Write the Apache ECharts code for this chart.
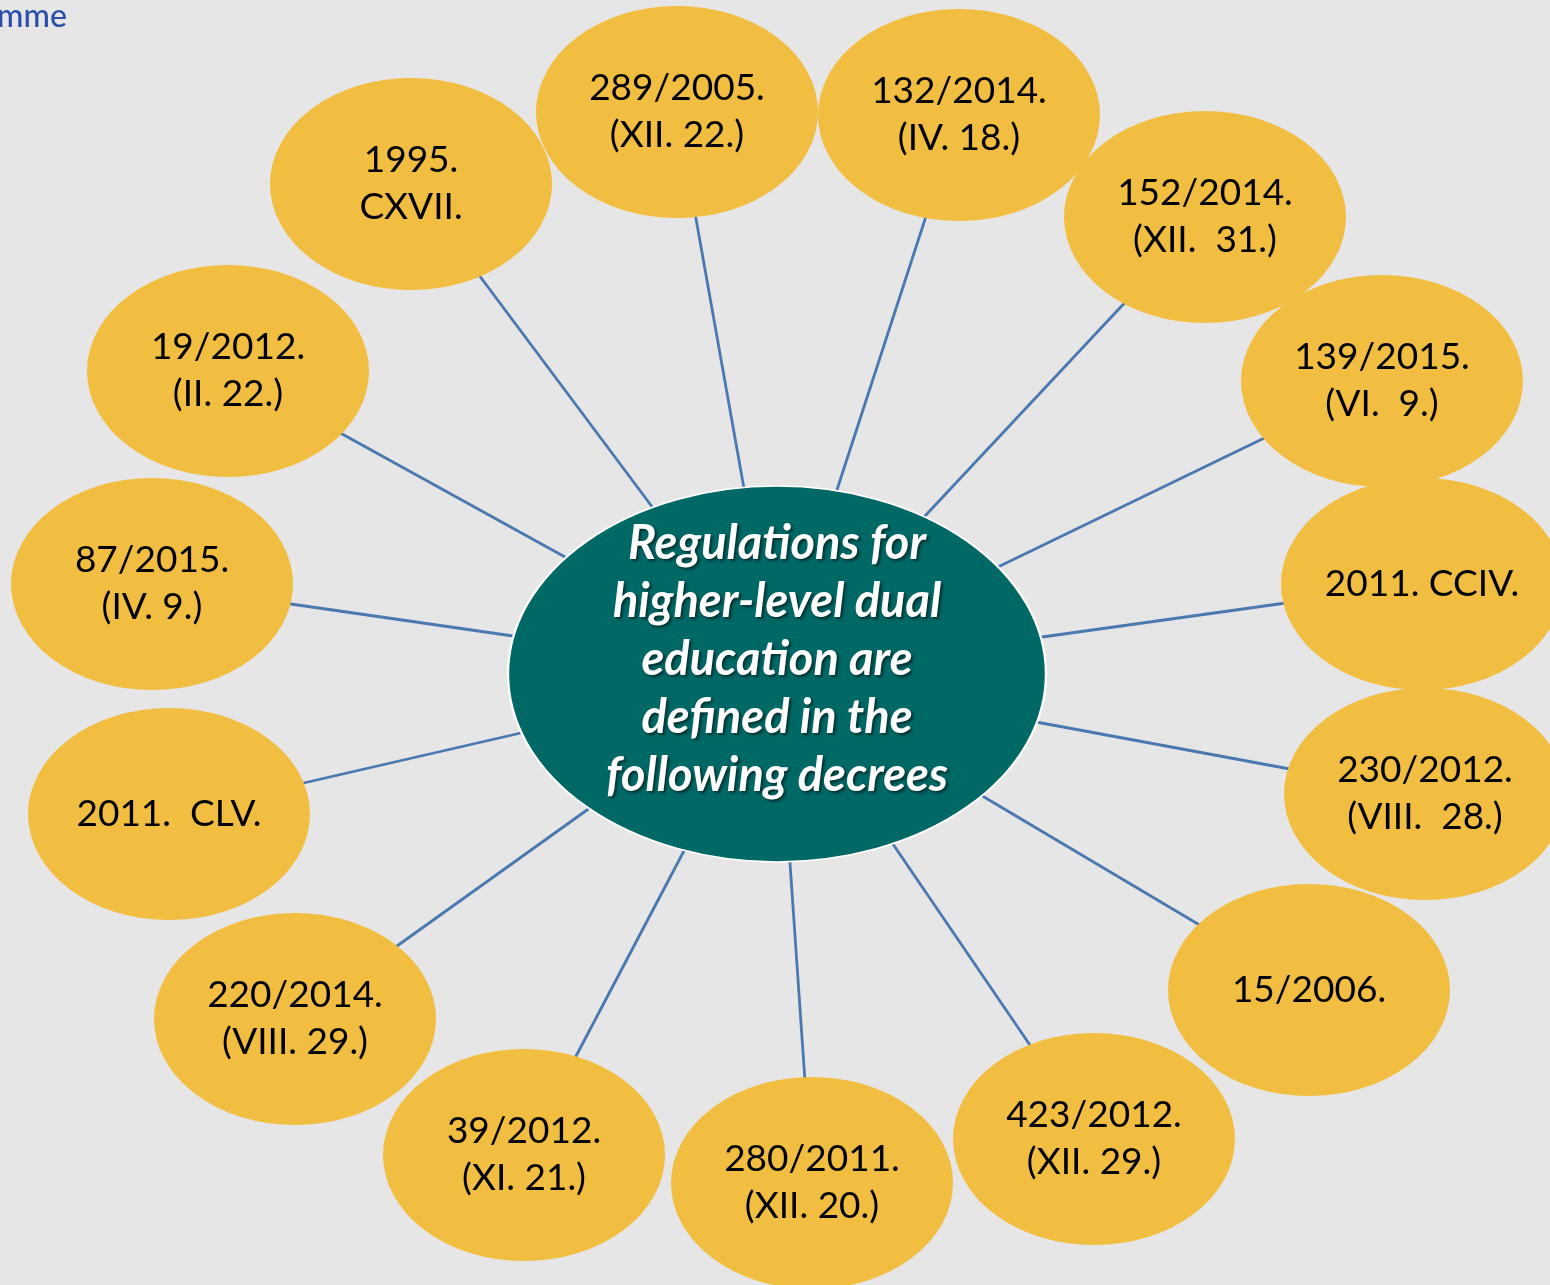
<!DOCTYPE html>
<html>
<head>
<meta charset="utf-8">
<title>Regulations for higher-level dual education</title>
<script src="https://cdn.jsdelivr.net/npm/echarts@6/dist/echarts.min.js"></script>
<style>
  html, body { margin: 0; padding: 0; background: #e6e6e6; }
  #chart { width: 1550px; height: 1285px; }
</style>
</head>
<body>
<div id="chart"></div>
<script>
// central topic
const centerLabel = 'Regulations for\nhigher-level dual\neducation are\ndefined in the\nfollowing decrees';
const centerPos = [777, 674];

// decrees around the centre (clockwise from top-left)
const decrees = [
  '1995.\nCXVII.',
  '289/2005.\n(XII. 22.)',
  '132/2014.\n(IV. 18.)',
  '152/2014.\n(XII.  31.)',
  '139/2015.\n(VI.  9.)',
  '2011. CCIV.',
  '230/2012.\n(VIII.  28.)',
  '15/2006.',
  '423/2012.\n(XII. 29.)',
  '280/2011.\n(XII. 20.)',
  '39/2012.\n(XI. 21.)',
  '220/2014.\n(VIII. 29.)',
  '2011.  CLV.',
  '87/2015.\n(IV. 9.)',
  '19/2012.\n(II. 22.)'
];
// bubble centres (pixels)
const decreeX = [411, 677, 959, 1205, 1382, 1422, 1425, 1309, 1094, 812, 524, 295, 169, 152, 228];
const decreeY = [184, 112, 115, 217, 381, 584, 794, 990, 1139, 1183, 1155, 1019, 814, 584, 371];

const chart = echarts.init(document.getElementById('chart'));

const nodes = [{
  name: 'center',
  value: centerPos,
  symbolSize: [538, 376],
  itemStyle: { color: '#006865', borderColor: '#ffffff', borderWidth: 2 },
  label: {
    show: true,
    formatter: centerLabel,
    offset: [0, -14],
    color: '#ffffff',
    fontFamily: 'Lato, "Open Sans", sans-serif',
    fontSize: 47,
    fontWeight: 'bold',
    fontStyle: 'italic',
    lineHeight: 58,
    textShadowColor: 'rgba(0,0,0,0.55)',
    textShadowBlur: 3,
    textShadowOffsetX: 2,
    textShadowOffsetY: 2
  }
}];
decrees.forEach((d, i) => {
  nodes.push({
    name: 'd' + i,
    value: [decreeX[i], decreeY[i]],
    label: { formatter: d }
  });
});
const links = decrees.map((d, i) => ({ source: 'center', target: 'd' + i }));

chart.setOption({
  backgroundColor: '#e6e6e6',
  animation: false,
  grid: { left: 0, right: 0, top: 0, bottom: 0 },
  xAxis: { type: 'value', min: 0, max: 1550, show: false },
  yAxis: { type: 'value', min: 0, max: 1285, inverse: true, show: false },
  graphic: [{
    type: 'text',
    left: -3,
    top: 1,
    style: {
      text: 'mme',
      fill: '#2b4fa8',
      fontSize: 32,
      fontWeight: 500,
      fontFamily: 'Lato, "Open Sans", sans-serif'
    }
  }],
  series: [{
    type: 'graph',
    coordinateSystem: 'cartesian2d',
    layout: 'none',
    symbol: 'circle',
    symbolSize: [282, 212],
    itemStyle: { color: '#f2be42' },
    label: {
      show: true,
      position: 'inside',
      color: '#000000',
      fontFamily: 'Lato, "Open Sans", sans-serif',
      fontSize: 37,
      lineHeight: 47
    },
    lineStyle: { color: '#4a78b0', width: 2.8, opacity: 1, curveness: 0 },
    emphasis: { disabled: true },
    data: nodes,
    links: links
  }]
});
</script>
</body>
</html>
